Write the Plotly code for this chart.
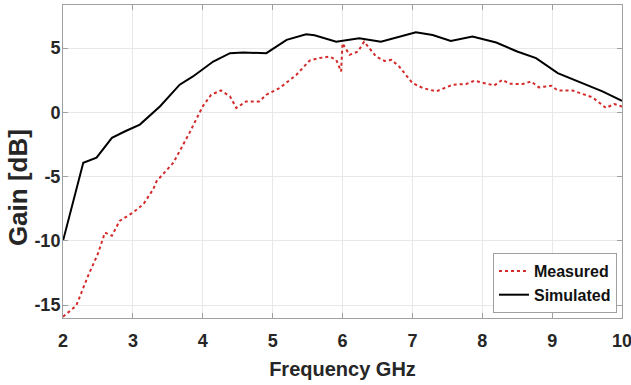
import plotly.graph_objects as go

sim_freq = [2.0, 2.29, 2.48, 2.70, 2.89, 3.1, 3.39, 3.67, 3.86, 4.15, 4.39, 4.58, 4.91, 5.2, 5.48, 5.6,
            5.91, 6.24, 6.55, 7.05, 7.29, 7.55, 7.86, 8.2, 8.5, 8.77, 9.08, 9.43, 9.72, 10.0]
sim_gain = [-10.0, -3.92, -3.53, -1.98, -1.47, -0.95, 0.47, 2.15, 2.79, 3.95, 4.6, 4.65, 4.6, 5.64, 6.07, 6.0,
            5.5, 5.77, 5.5, 6.23, 6.02, 5.56, 5.89, 5.43, 4.73, 4.22, 3.05, 2.28, 1.63, 0.9]

meas_freq = [2.0, 2.19, 2.36, 2.50, 2.6, 2.70, 2.81, 3.0, 3.15, 3.29, 3.34, 3.58, 3.81, 4.0, 4.12, 4.26,
             4.39, 4.48, 4.62, 4.81, 4.91, 5.1, 5.34, 5.53, 5.67, 5.81, 5.91, 5.98, 6.0, 6.1, 6.22, 6.31,
             6.48, 6.6, 6.7, 6.81, 7.0, 7.15, 7.34, 7.58, 7.77, 7.89, 8.17, 8.29, 8.39, 8.58, 8.7, 8.81,
             8.99, 9.08, 9.29, 9.58, 9.77, 9.89, 10.0]
meas_gain = [-15.9, -15.04, -12.7, -11.0, -9.35, -9.6, -8.45, -7.8, -7.15, -5.99, -5.35, -3.92, -1.6, 0.47, 1.37, 1.7,
             1.24, 0.34, 0.85, 0.85, 1.37, 1.89, 2.92, 4.03, 4.22, 4.34, 4.08, 3.18, 5.38, 4.47, 4.73, 5.5,
             4.34, 4.0, 4.08, 3.57, 2.28, 1.89, 1.63, 2.15, 2.2, 2.46, 2.09, 2.53, 2.22, 2.2, 2.4, 1.94,
             2.07, 1.7, 1.7, 1.16, 0.34, 0.65, 0.45]

x_ticks = [2, 3, 4, 5, 6, 7, 8, 9, 10]
y_ticks = [-15, -10, -5, 0, 5]
x_labels = ["2", "3", "4", "5", "6", "7", "8", "9", "10"]
y_labels = ["-15", "-10", "-5", "0", "5"]

FONT = "Arial, Liberation Sans, sans-serif"
TXT = "#262626"

fig = go.Figure()
fig.add_trace(go.Scatter(x=meas_freq, y=meas_gain, mode="lines", name="<b>Measured</b>",
                         line=dict(color="#d42a2a", width=2, dash="dot")))
fig.add_trace(go.Scatter(x=sim_freq, y=sim_gain, mode="lines", name="<b>Simulated</b>",
                         line=dict(color="black", width=2)))

axis_common = dict(showgrid=True, gridcolor="#e8e8e8", gridwidth=1, showline=True, linecolor="#a0a0a0",
                   linewidth=1, mirror="ticks", ticks="inside", ticklen=5, tickcolor="#a0a0a0",
                   zeroline=False, automargin=False, ticklabeloverflow="allow",
                   tickfont=dict(family=FONT, size=18, color=TXT))

fig.update_layout(
    width=631, height=385,
    margin=dict(l=63, r=9, t=5, b=67),
    plot_bgcolor="white", paper_bgcolor="white",
    xaxis=dict(range=[2, 10], tickvals=x_ticks, ticktext=["<b>%s</b>" % s for s in x_labels],
               ticklabelstandoff=6,
               title=dict(text="<b>Frequency GHz</b>", font=dict(family=FONT, size=20, color=TXT), standoff=12),
               **axis_common),
    yaxis=dict(range=[-16, 8.35], tickvals=y_ticks, ticktext=["<b>%s</b>" % s for s in y_labels],
               ticklabelstandoff=-2,
               **axis_common),
    annotations=[dict(text="<b>Gain [dB]</b>", textangle=-90, xref="paper", yref="paper",
                      x=-0.0805, y=0.415, xanchor="center", yanchor="middle", showarrow=False,
                      font=dict(family=FONT, size=26, color=TXT))],
    legend=dict(x=0.991, y=0.016, xanchor="right", yanchor="bottom",
                bgcolor="white", bordercolor="#a0a0a0", borderwidth=1,
                font=dict(family=FONT, size=16, color="#111111"),
                itemwidth=30, tracegroupgap=0),
    showlegend=True,
)

fig.write_html("out.html", config={"displayModeBar": False},
               post_script="document.body.style.margin='0';document.body.style.padding='0';")
